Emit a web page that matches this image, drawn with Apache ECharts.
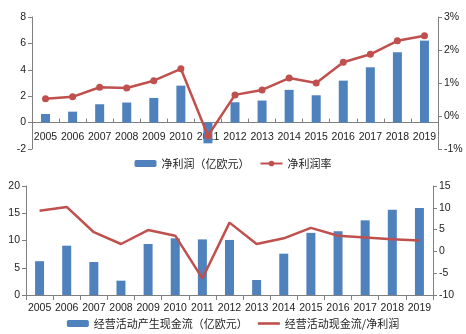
<!DOCTYPE html>
<html>
<head>
<meta charset="utf-8">
<script src="https://cdn.jsdelivr.net/npm/echarts@6/dist/echarts.min.js"></script>
<style>
  html, body { margin: 0; padding: 0; background: #fff; }
  #chart { width: 466px; height: 334px; }
</style>
</head>
<body>
<div id="chart"></div>
<script>
// Years shared by both panels
const years = ['2005','2006','2007','2008','2009','2010','2011','2012','2013','2014','2015','2016','2017','2018','2019'];

// Upper panel: net profit (100m EUR) and net margin (%)
const netProfit = [0.65, 0.83, 1.39, 1.52, 1.87, 2.8, -1.57, 1.54, 1.67, 2.48, 2.07, 3.18, 4.19, 5.33, 6.21];
const netMargin = [0.52, 0.58, 0.87, 0.85, 1.07, 1.43, -0.6, 0.64, 0.79, 1.15, 1.0, 1.63, 1.87, 2.28, 2.43];

// Lower panel: operating cash flow (100m EUR) and its ratio to net profit
const opCashFlow = [6.2, 9.05, 6.05, 2.63, 9.36, 10.4, 10.2, 10.1, 2.75, 7.58, 11.4, 11.7, 13.7, 15.65, 15.96];
const cashToProfit = [9.3, 10.2, 4.4, 1.7, 4.9, 3.6, -6.2, 6.6, 1.7, 3.0, 5.4, 3.6, 3.2, 2.8, 2.5];

const names = {
  profit: '净利润（亿欧元）',
  margin: '净利润率',
  cash: '经营活动产生现金流（亿欧元）',
  ratio: '经营活动现金流/净利润'
};

const BLUE = '#4f81bd';
const RED = '#c0504d';
const AXIS = '#7f7f7f';
const TXT = '#222';
const NUM_FONT = 'Liberation Sans';
const CJK_FONT = 'Noto Sans CJK SC';

// Upper panel geometry: the category axis sits on the zero line of the left axis
const TOP_MIN = -2, TOP_MAX = 8, TOP_H = 132;
const zeroOffset = -TOP_H * (0 - TOP_MIN) / (TOP_MAX - TOP_MIN);

// Plain line swatch for a line series drawn without markers
const LINE_ICON = 'path://M0,0 L22,0 L22,2.6 L0,2.6 Z';

function valueAxis(gridIndex, min, max, interval, position, fmt) {
  return {
    type: 'value', gridIndex, min, max, interval, position,
    axisLine: { show: true, lineStyle: { color: AXIS, width: 1 } },
    axisTick: { show: true, length: 4, lineStyle: { color: AXIS } },
    splitLine: { show: false },
    axisLabel: { color: TXT, fontFamily: NUM_FONT, fontSize: 10.5, margin: 6, formatter: fmt || '{value}' }
  };
}

const chart = echarts.init(document.getElementById('chart'), null, { renderer: 'canvas' });

chart.setOption({
  animation: false,
  backgroundColor: '#fff',
  grid: [
    { left: 32, right: 28, top: 17, height: TOP_H },
    { left: 26, right: 33, top: 186, height: 109 }
  ],
  xAxis: [
    {
      type: 'category', gridIndex: 0, data: years, position: 'bottom', offset: zeroOffset,
      axisLine: { onZero: false, lineStyle: { color: AXIS } },
      axisTick: { show: true, inside: true, length: 4, lineStyle: { color: AXIS } },
      axisLabel: { color: TXT, fontFamily: NUM_FONT, fontSize: 10.5, margin: 9, interval: 0 }
    },
    {
      type: 'category', gridIndex: 1, data: years,
      axisLine: { lineStyle: { color: AXIS } },
      axisTick: { show: true, length: 5, lineStyle: { color: AXIS } },
      axisLabel: { color: TXT, fontFamily: NUM_FONT, fontSize: 10.5, margin: 8, interval: 0 }
    }
  ],
  yAxis: [
    valueAxis(0, TOP_MIN, TOP_MAX, 2, 'left'),
    valueAxis(0, -1, 3, 1, 'right', '{value}%'),
    valueAxis(1, 0, 20, 5, 'left'),
    valueAxis(1, -10, 15, 5, 'right')
  ],
  legend: [
    {
      data: [names.profit, names.margin],
      top: 153, left: 'center',
      itemWidth: 22, itemHeight: 7, itemGap: 10,
      textStyle: { fontFamily: CJK_FONT, fontSize: 11, color: TXT }
    },
    {
      data: [names.cash, { name: names.ratio, icon: LINE_ICON, itemStyle: { color: RED } }],
      top: 313, left: 'center',
      itemWidth: 22, itemHeight: 7, itemGap: 10,
      textStyle: { fontFamily: CJK_FONT, fontSize: 11, color: TXT }
    }
  ],
  series: [
    {
      name: names.profit, type: 'bar', xAxisIndex: 0, yAxisIndex: 0,
      data: netProfit, barWidth: 9, itemStyle: { color: BLUE }
    },
    {
      name: names.margin, type: 'line', xAxisIndex: 0, yAxisIndex: 1,
      data: netMargin, symbol: 'circle', symbolSize: 7,
      lineStyle: { color: RED, width: 2.5 }, itemStyle: { color: RED }
    },
    {
      name: names.cash, type: 'bar', xAxisIndex: 1, yAxisIndex: 2,
      data: opCashFlow, barWidth: 9, itemStyle: { color: BLUE }
    },
    {
      name: names.ratio, type: 'line', xAxisIndex: 1, yAxisIndex: 3,
      data: cashToProfit, symbol: 'none', showSymbol: false,
      lineStyle: { color: RED, width: 2.5 }, itemStyle: { color: RED }
    }
  ]
});
</script>
</body>
</html>
